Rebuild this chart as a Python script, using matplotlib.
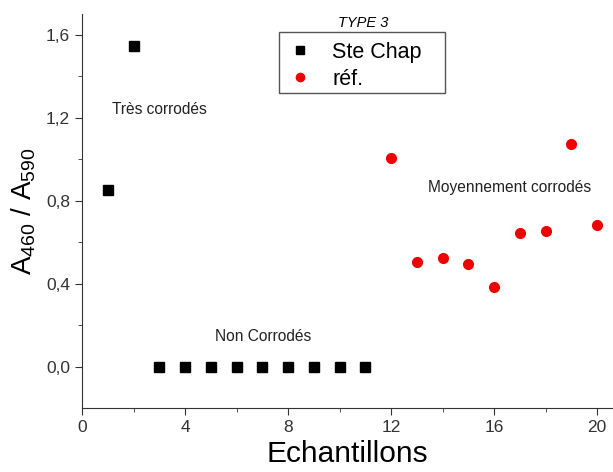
import matplotlib
matplotlib.use("Agg")
import matplotlib.pyplot as plt
from matplotlib.ticker import MultipleLocator, FuncFormatter
from matplotlib.patches import Rectangle

plt.rcParams['font.family'] = ['Liberation Sans', 'DejaVu Sans']
plt.rcParams['mathtext.fontset'] = 'custom'
plt.rcParams['mathtext.rm'] = 'Liberation Sans'
plt.rcParams['mathtext.it'] = 'Liberation Sans:italic'

ste_x = [1, 2, 3, 4, 5, 6, 7, 8, 9, 10, 11]
ste_y = [0.85, 1.545, 0, 0, 0, 0, 0, 0, 0, 0, 0]
ref_x = [12, 13, 14, 15, 16, 17, 18, 19, 20]
ref_y = [1.005, 0.505, 0.525, 0.495, 0.385, 0.645, 0.655, 1.075, 0.685]

W, H = 613, 472
fig = plt.figure(figsize=(W/100, H/100), dpi=100)
ax = fig.add_axes([82/W, 64/H, 1 - 82/W, (408-14)/H])

ax.plot(ste_x, ste_y, 's', color='black', markersize=6.5, linestyle='none', label='Ste Chap')
ax.plot(ref_x, ref_y, 'o', color='#ee0000', markersize=7, linestyle='none', label='réf.')

ax.set_xlim(0, (W-82)/25.75)
ax.set_ylim(-0.198, 1.70)
ax.spines['top'].set_visible(False)
ax.spines['right'].set_visible(False)
ax.spines['left'].set_color('#333333')
ax.spines['bottom'].set_color('#333333')
ax.xaxis.set_major_locator(MultipleLocator(4))
ax.xaxis.set_minor_locator(MultipleLocator(2))
ax.yaxis.set_major_locator(MultipleLocator(0.4))
ax.yaxis.set_minor_locator(MultipleLocator(0.2))
ax.yaxis.set_major_formatter(FuncFormatter(lambda v, p: f"{v:.1f}".replace('.', ',').replace('-0,0', '0,0')))
ax.tick_params(axis='both', which='major', direction='out', length=5, labelsize=12.5, colors='#333333')
ax.tick_params(axis='both', which='minor', direction='out', length=3, colors='#333333')

ax.set_xlabel('Echantillons', fontsize=21.5, labelpad=4)
ax.set_ylabel('A$_{460}$ / A$_{590}$', fontsize=20, labelpad=6)

ax.text(1.17, 1.24, 'Très corrodés', fontsize=11.2, va='center', ha='left', color='#222222')
ax.text(5.17, 0.145, 'Non Corrodés', fontsize=11.2, va='center', ha='left', color='#222222')
ax.text(13.44, 0.863, 'Moyennement corrodés', fontsize=11.2, va='center', ha='left', color='#222222')

fig.text(363/W, 1 - 23/H, 'TYPE 3', fontsize=10.5, style='italic', ha='center', va='center')

# legend frame
frame = Rectangle((279/W, 1 - 93/H), (445-279)/W, (93-32)/H, transform=fig.transFigure,
                  fill=True, facecolor='white', edgecolor='#555555', linewidth=1.0, zorder=4, clip_on=False)
ax.add_patch(frame)
leg = ax.legend(loc='upper left', bbox_to_anchor=(288/W, 1 - 42/H), bbox_transform=fig.transFigure,
                borderaxespad=0, borderpad=0, fontsize=15.5, frameon=False, handlelength=1.1,
                handletextpad=0.95, labelspacing=0.27, markerscale=0.85)
leg.set_zorder(6)

fig.savefig('out.png', dpi=100)
